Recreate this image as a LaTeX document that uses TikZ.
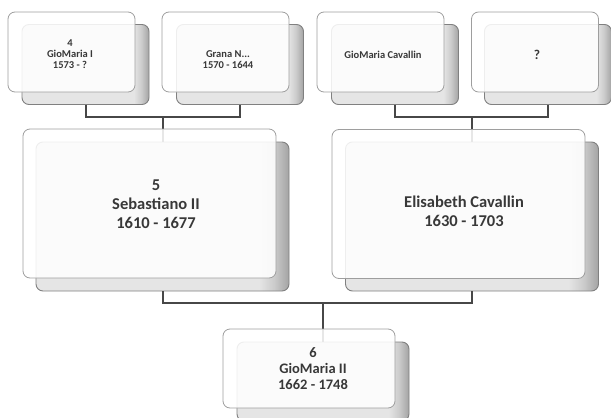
\documentclass[tikz,border=0pt]{standalone}
\usepackage{fontspec}
\setmainfont{Carlito}
\colorlet{backlight}{black!10}
\colorlet{backmid}{black!20}
\colorlet{backdark}{black!36}
\colorlet{linkgray}{black!72}
\colorlet{textgray}{black!78}
% back card: flat grey with a darker band along its right edge
\pgfdeclarehorizontalshading{backshade}{100bp}{color(0bp)=(backlight); color(69bp)=(backlight); color(72bp)=(backmid); color(75bp)=(backdark); color(100bp)=(backdark)}
\tikzset{
  card/.style={rectangle, inner sep=0pt, outer sep=0pt, rounded corners=7pt},
  backcard/.style={card, shading=backshade, draw=black!50, line width=0.9pt},
  frontcard/.style={card, fill=white, fill opacity=0.87, draw=black!38, line width=0.8pt},
  smallcard/.style={minimum width=127pt, minimum height=80pt},
  bigcard/.style={minimum width=253pt, minimum height=149pt},
  childcard/.style={minimum width=172pt, minimum height=79pt},
  link/.style={draw=linkgray, line width=2pt},
  smalltext/.style={align=center, text=textgray, font=\bfseries\fontsize{10.5}{11}\selectfont},
  marktext/.style={align=center, text=textgray, font=\bfseries\fontsize{13.5}{15}\selectfont},
  bigtext/.style={align=center, text=textgray, font=\bfseries\fontsize{16.5}{19}\selectfont},
  childtext/.style={align=center, text=textgray, font=\bfseries\fontsize{14.5}{16}\selectfont},
}
\begin{document}
\begin{tikzpicture}[x=1pt, y=-1pt]
\path[use as bounding box] (0,0) rectangle (611,418);

% back cards
\node[backcard, smallcard] (b1) at (85.5,64.5) {};
\node[backcard, smallcard] (b2) at (240,64.5) {};
\node[backcard, smallcard] (b3) at (395,64.5) {};
\node[backcard, smallcard] (b4) at (548,64.5) {};
\node[backcard, bigcard] (b5) at (162.5,216.5) {};
\node[backcard, bigcard] (b6) at (472,216.5) {};
\node[backcard, childcard] (b7) at (323,381.5) {};

% family links
\draw[link] (b1.south) -- ++(0,12) coordinate (j1) -| (b2.south);
\draw[link] (b5.north) -- (b5.north |- j1);
\draw[link] (b3.south) -- ++(0,12) coordinate (j2) -| (b4.south);
\draw[link] (b6.north) -- (b6.north |- j2);
\draw[link] (b5.south) -- ++(0,12) coordinate (j3) -| (b6.south);
\draw[link] (b7.north) -- (b7.north |- j3);

% front cards
\node[frontcard, smallcard] (f1) at (71.5,52) {};
\node[frontcard, smallcard] (f2) at (225.5,52) {};
\node[frontcard, smallcard] (f3) at (380.5,52) {};
\node[frontcard, smallcard] (f4) at (535,52) {};
\node[frontcard, bigcard] (f5) at (149.5,203.5) {};
\node[frontcard, bigcard] (f6) at (458.5,204) {};
\node[frontcard, childcard] (f7) at (309,368.5) {};

% names and dates
\node[smalltext] (t1) at (70,54) {4\\GioMaria I\\1573 - ?};
\node[smalltext] (t2) at (228,60) {Grana N...\\1570 - 1644};
\node[smalltext] (t3) at (383,55) {GioMaria Cavallin};
\node[marktext] (t4) at (537,55) {?};
\node[bigtext] (t5) at (156,204) {5\\Sebastiano II\\1610 - 1677};
\node[bigtext] (t6) at (464,211.5) {Elisabeth Cavallin\\1630 - 1703};
\node[childtext] (t7) at (313,369) {6\\GioMaria II\\1662 - 1748};
\end{tikzpicture}
\end{document}
